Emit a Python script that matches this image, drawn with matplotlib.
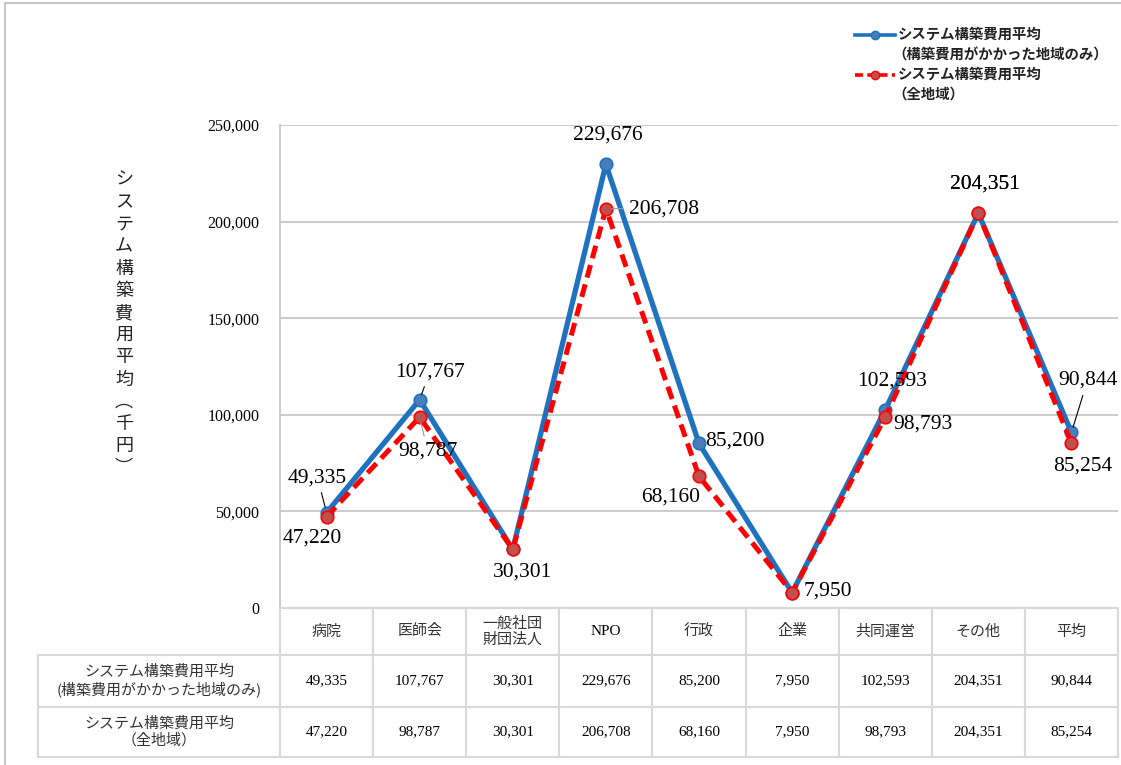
import numpy as np
import matplotlib.pyplot as plt
from matplotlib.lines import Line2D
from matplotlib.ticker import FuncFormatter

categories = ['病院', '医師会', '一般社団\n財団法人', 'NPO', '行政', '企業', '共同運営', 'その他', '平均']
cost_only = [49335, 107767, 30301, 229676, 85200, 7950, 102593, 204351, 90844]
cost_all = [47220, 98787, 30301, 206708, 68160, 7950, 98793, 204351, 85254]
series_names = ['システム構築費用平均\n(構築費用がかかった地域のみ)', 'システム構築費用平均\n（全地域）']
legend_lines = [['システム構築費用平均', '（構築費用がかかった地域のみ）'],
                ['システム構築費用平均', '（全地域）']]
ylabel = 'システム構築費用平均︵千円︶'

SERIF = ['Liberation Serif', 'Noto Sans CJK JP']
JP = ['Noto Sans CJK JP', 'DejaVu Sans']
BLUE = '#1f72c0'
RED = '#ff0000'
GRID = '#c8c8c8'

W, H = 1121, 765
fig = plt.figure(figsize=(W / 100, H / 100), dpi=100)

def fx(px):
    return px / W

def fy(py):
    return 1 - py / H

# frame lines (left and top)
fig.add_artist(Line2D([fx(5), fx(5), fx(1121)], [fy(765), fy(3), fy(3)],
                      transform=fig.transFigure, color=GRID, lw=1.5))

ax = fig.add_axes([fx(280), fy(608), fx(838), 483 / H])
x = np.arange(len(categories))
ax.plot(x, cost_only, color=BLUE, lw=3.8, marker='o', ms=9,
        mfc='#4a7ebb', mec=BLUE, mew=1.2, zorder=3)
ax.plot(x, cost_all, color=RED, lw=3.6, dashes=(2.6, 1.4), marker='o', ms=9,
        mfc='#c0504d', mec=RED, mew=1.2, zorder=4)

ax.set_xlim(-0.5, len(categories) - 0.5)
ax.set_ylim(0, 250000)
ax.set_yticks(range(0, 250001, 50000))
ax.yaxis.set_major_formatter(FuncFormatter(lambda v, p: f'{int(v):,}'))
ax.set_xticks([])
ax.tick_params(axis='y', length=0, pad=15, labelsize=11.5)
for lbl in ax.get_yticklabels():
    lbl.set_fontfamily(SERIF)
ax.grid(axis='y', color=GRID, lw=1.3)
ax.set_axisbelow(True)
for s in ['top', 'right', 'bottom']:
    ax.spines[s].set_visible(False)
ax.spines['left'].set_color(GRID)
ax.spines['left'].set_linewidth(1.3)

# data labels (offsets in pixels)
blue_off = [(-9, 35), (10, 28), None, (2, 29), (36, 2), None, (7, 29), (7, 29), (16, 52)]
red_off = [(-14, -21), (8, -34), (10, -23), (58, 0), (-28, -21), (36, 2), (38, -7), (7, 29), (11, -23)]
blue_lead = [0, 1, 8]
red_lead = [1, 3]
for i, (v, off) in enumerate(zip(cost_only, blue_off)):
    if off is None:
        continue
    ap = dict(arrowstyle='-', color='black', lw=0.8, shrinkA=2, shrinkB=4) if i in blue_lead else None
    ax.annotate(f'{v:,}', (i, v), xytext=off, textcoords='offset pixels',
                ha='center', va='center', fontsize=15.5, family=SERIF, arrowprops=ap, zorder=6)
for i, (v, off) in enumerate(zip(cost_all, red_off)):
    ap = dict(arrowstyle='-', color='#999999', lw=0.8, shrinkA=2, shrinkB=4) if i in red_lead else None
    ax.annotate(f'{v:,}', (i, v), xytext=off, textcoords='offset pixels',
                ha='center', va='center', fontsize=15.5, family=SERIF, arrowprops=ap, zorder=6)

# vertical y label
fig.text(fx(124), fy(324), '\n'.join(ylabel), ha='center', va='center',
         fontsize=13, family=JP, linespacing=1.3, color='#222222')

# legend
for k, (col, dash, mfc) in enumerate([(BLUE, None, '#4a7ebb'), (RED, (2.2, 1.2), '#c0504d')]):
    yy = 35 + 40 * k
    ln = Line2D([fx(855), fx(895)], [fy(yy), fy(yy)], transform=fig.transFigure,
                color=col, lw=2.6)
    if dash:
        ln.set_dashes(dash)
    fig.add_artist(ln)
    fig.add_artist(Line2D([fx(875)], [fy(yy)], transform=fig.transFigure, marker='o',
                          ms=6, mfc=mfc, mec=col, ls='none'))
    for j, t in enumerate(legend_lines[k]):
        fig.text(fx(898 if j == 0 else 892), fy(yy + 20 * j), t, ha='left', va='center',
                 fontsize=10.4, family=JP, weight='bold', color='#222222')

# data table
tax = fig.add_axes([fx(38), fy(757), fx(1080), 149 / H])
tax.axis('off')
cell_text = [[''] + categories,
             [series_names[0]] + [f'{v:,}' for v in cost_only],
             [series_names[1]] + [f'{v:,}' for v in cost_all]]
colw = [242] + [838 / 9] * 9
tbl = tax.table(cellText=cell_text, colWidths=[c / 1080 for c in colw],
                bbox=[0, 0, 1, 1], cellLoc='center')
tbl.auto_set_font_size(False)
heights = [47 / 149, 52 / 149, 50 / 149]
for (r, c), cell in tbl.get_celld().items():
    cell.set_edgecolor('#d9d9d9')
    cell.set_linewidth(1.5)
    cell.set_height(heights[r])
    txt = cell.get_text()
    s = txt.get_text()
    if r == 0 and c == 0:
        cell.visible_edges = ''
    if any(ch.isdigit() for ch in s) or s == 'NPO':
        txt.set_fontfamily(SERIF)
        txt.set_fontsize(11)
    else:
        txt.set_fontfamily(JP)
        txt.set_fontsize(10.8)
        txt.set_color('#333333')
        txt.set_linespacing(1.15)

fig.savefig('out.png', dpi=100)
